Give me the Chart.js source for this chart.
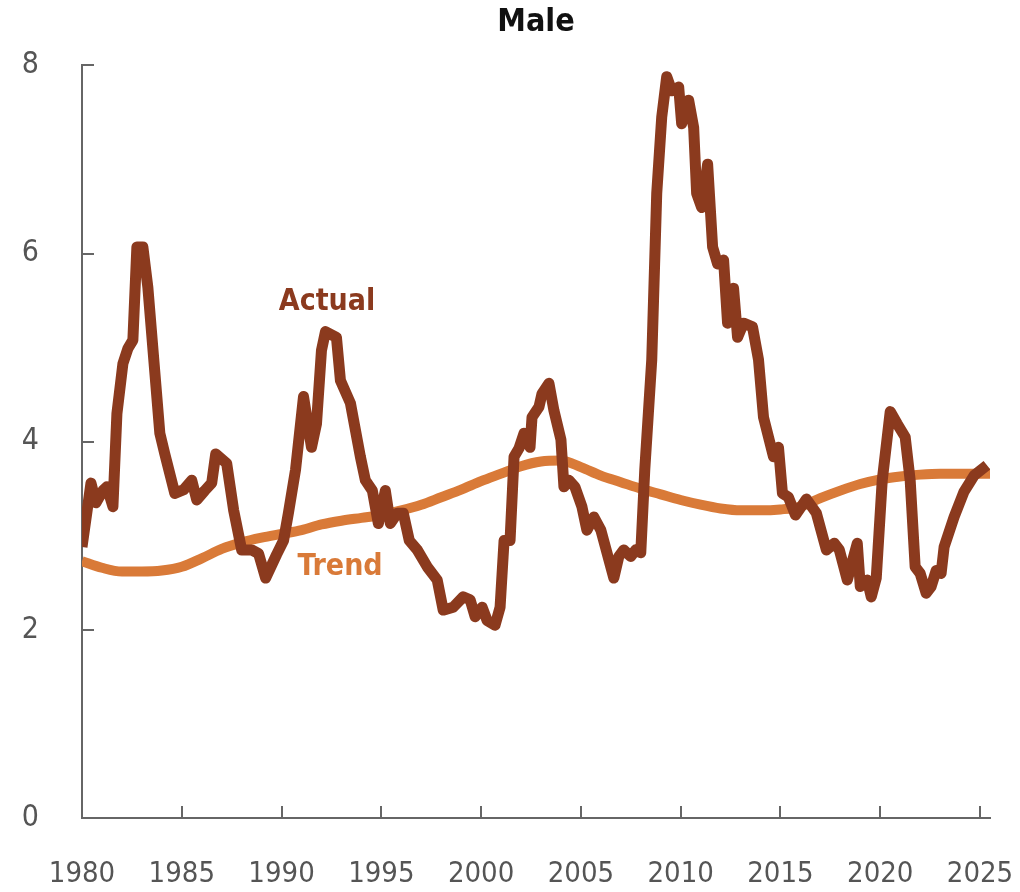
<!DOCTYPE html>
<html>
<head>
<meta charset="utf-8">
<script src="https://cdn.jsdelivr.net/npm/chart.js@4/dist/chart.umd.min.js"></script>
<style>
  html, body { margin: 0; padding: 0; background: #fff; }
  #wrap { width: 1020px; height: 892px; }
</style>
</head>
<body>
<div id="wrap"><canvas id="maleChart"></canvas></div>
<script>
// actual rate
const actualYears = [1980.0, 1980.45, 1980.7, 1981.05, 1981.25, 1981.55, 1981.75, 1982.05, 1982.3, 1982.55,
  1982.75, 1983.05, 1983.3, 1983.9, 1984.15, 1984.65, 1985.1, 1985.5, 1985.75, 1986.15,
  1986.5, 1986.7, 1987.25, 1987.6, 1988.0, 1988.5, 1988.85, 1989.2, 1989.75, 1990.1,
  1990.35, 1990.7, 1991.1, 1991.5, 1991.75, 1992.0, 1992.2, 1992.75, 1992.95, 1993.45,
  1993.95, 1994.2, 1994.55, 1994.85, 1995.2, 1995.45, 1995.8, 1996.1, 1996.4, 1996.8,
  1997.3, 1997.8, 1998.1, 1998.6, 1999.1, 1999.45, 1999.7, 2000.05, 2000.3, 2000.7,
  2000.95, 2001.15, 2001.45, 2001.65, 2001.9, 2002.15, 2002.45, 2002.55, 2002.9, 2003.05,
  2003.4, 2003.65, 2004.0, 2004.15, 2004.4, 2004.7, 2005.05, 2005.3, 2005.65, 2006.0,
  2006.65, 2006.9, 2007.15, 2007.5, 2007.75, 2008.0, 2008.2, 2008.55, 2008.8, 2009.05,
  2009.3, 2009.55, 2009.9, 2010.05, 2010.4, 2010.65, 2010.8, 2011.05, 2011.35, 2011.6,
  2011.85, 2012.15, 2012.35, 2012.65, 2012.85, 2013.15, 2013.6, 2013.9, 2014.15, 2014.65,
  2014.9, 2015.1, 2015.4, 2015.75, 2016.3, 2016.8, 2017.3, 2017.7, 2017.95, 2018.35,
  2018.85, 2019.0, 2019.35, 2019.55, 2019.8, 2020.1, 2020.5, 2020.85, 2021.25, 2021.5,
  2021.75, 2022.0, 2022.3, 2022.55, 2022.8, 2023.05, 2023.2, 2023.7, 2024.2, 2024.7,
  2025.35];
const actualValues = [2.88, 3.56, 3.35, 3.48, 3.52, 3.31, 4.30, 4.83, 4.99, 5.08,
  6.07, 6.07, 5.64, 4.09, 3.87, 3.45, 3.49, 3.59, 3.38, 3.48,
  3.56, 3.87, 3.77, 3.27, 2.85, 2.85, 2.81, 2.55, 2.80, 2.95,
  3.25, 3.70, 4.48, 3.94, 4.19, 4.97, 5.17, 5.11, 4.65, 4.41,
  3.84, 3.59, 3.48, 3.13, 3.48, 3.13, 3.24, 3.24, 2.95, 2.85,
  2.67, 2.53, 2.21, 2.24, 2.35, 2.32, 2.14, 2.24, 2.10, 2.05,
  2.24, 2.95, 2.95, 3.84, 3.93, 4.09, 3.94, 4.26, 4.37, 4.51,
  4.62, 4.33, 4.02, 3.52, 3.59, 3.52, 3.31, 3.06, 3.20, 3.06,
  2.55, 2.78, 2.85, 2.78, 2.85, 2.82, 3.70, 4.87, 6.64, 7.45,
  7.88, 7.73, 7.77, 7.38, 7.63, 7.34, 6.64, 6.49, 6.95, 6.07,
  5.89, 5.93, 5.26, 5.63, 5.11, 5.26, 5.22, 4.87, 4.26, 3.84,
  3.94, 3.45, 3.41, 3.22, 3.39, 3.24, 2.85, 2.92, 2.85, 2.53,
  2.92, 2.46, 2.53, 2.35, 2.55, 3.59, 4.32, 4.19, 4.05, 3.59,
  2.67, 2.60, 2.39, 2.46, 2.63, 2.60, 2.88, 3.20, 3.47, 3.64,
  3.75];

// smooth trend
const trendYears = [1980, 1981, 1982, 1983, 1984, 1985, 1986, 1987, 1988, 1989,
  1990, 1991, 1992, 1993, 1994, 1995, 1996, 1997, 1998, 1999,
  2000, 2001, 2002, 2003, 2004, 2005, 2006, 2007, 2008, 2009,
  2010, 2011, 2012, 2013, 2014, 2015, 2016, 2017, 2018, 2019,
  2020, 2021, 2022, 2023, 2024, 2025, 2025.5];
const trendValues = [2.73, 2.66, 2.62, 2.62, 2.63, 2.67, 2.76, 2.86, 2.93, 2.98,
  3.02, 3.06, 3.12, 3.16, 3.19, 3.22, 3.27, 3.33, 3.41, 3.49,
  3.58, 3.66, 3.74, 3.79, 3.80, 3.73, 3.64, 3.57, 3.50, 3.44,
  3.38, 3.33, 3.29, 3.27, 3.27, 3.28, 3.31, 3.40, 3.48, 3.55,
  3.60, 3.63, 3.65, 3.66, 3.66, 3.66, 3.66];

const xTicks = [1985, 1990, 1995, 2000, 2005, 2010, 2015, 2020, 2025];
const yTicks = [2, 4, 6, 8];

const labels = [
  { text: 'Actual', x: 1992.28, y: 5.48, color: '#8B3A1E' },
  { text: 'Trend', x: 1992.93, y: 2.67, color: '#D97A38' }
];

const narrow = '"Liberation Sans Narrow", "DejaVu Sans Condensed", sans-serif';
const axisColor = '#666';

// tick marks pointing into the plot, plus the two line labels
const innerTicks = {
  id: 'innerTicks',
  afterDatasetsDraw(chart) {
    const { ctx, scales: { x, y } } = chart;
    ctx.save();
    ctx.strokeStyle = axisColor;
    ctx.lineWidth = 2;
    ctx.beginPath();
    yTicks.forEach(v => {
      const py = Math.round(y.getPixelForValue(v));
      ctx.moveTo(x.left, py);
      ctx.lineTo(x.left + 12, py);
    });
    xTicks.forEach(v => {
      const px = Math.round(x.getPixelForValue(v));
      ctx.moveTo(px, y.bottom);
      ctx.lineTo(px, y.bottom - 12);
    });
    ctx.stroke();

    ctx.font = 'bold 30px ' + narrow;
    ctx.textAlign = 'center';
    ctx.textBaseline = 'middle';
    labels.forEach(l => {
      ctx.fillStyle = l.color;
      ctx.fillText(l.text, x.getPixelForValue(l.x), y.getPixelForValue(l.y));
    });
    ctx.restore();
  }
};

new Chart(document.getElementById('maleChart'), {
  type: 'line',
  data: {
    datasets: [{
      label: 'Actual',
      data: actualYears.map((yr, i) => ({ x: yr, y: actualValues[i] })),
      borderColor: '#8B3A1E',
      borderWidth: 11,
      borderJoinStyle: 'round',
      pointRadius: 0,
      tension: 0
    }, {
      label: 'Trend',
      data: trendYears.map((yr, i) => ({ x: yr, y: trendValues[i] })),
      borderColor: '#D97A38',
      borderWidth: 10,
      pointRadius: 0,
      cubicInterpolationMode: 'monotone'
    }]
  },
  options: {
    responsive: true,
    maintainAspectRatio: false,
    animation: false,
    layout: { padding: { left: 0, right: 30, top: 0, bottom: 0 } },
    plugins: {
      legend: { display: false },
      tooltip: { enabled: false },
      title: {
        display: true,
        text: 'Male',
        fullSize: false,
        color: '#111',
        font: { family: narrow, size: 32, weight: 'bold', lineHeight: 1.2 },
        padding: { top: 3, bottom: 24 }
      }
    },
    scales: {
      x: {
        type: 'linear',
        min: 1980,
        max: 2025.5,
        grid: { display: false, drawTicks: false },
        border: { display: true, color: axisColor, width: 2 },
        ticks: {
          stepSize: 5,
          includeBounds: false,
          padding: 39,
          color: '#555',
          font: { family: narrow, size: 29 },
          maxRotation: 0,
          callback: v => String(v)
        },
        afterFit: s => { s.height = 74; s.paddingLeft = 0; s.paddingRight = 0; }
      },
      y: {
        min: 0,
        max: 8,
        grid: { display: false, drawTicks: false },
        border: { display: true, color: axisColor, width: 2 },
        ticks: {
          stepSize: 2,
          padding: 43,
          color: '#555',
          font: { family: narrow, size: 30 }
        },
        afterFit: s => { s.width = 82; s.paddingTop = 0; s.paddingBottom = 0; }
      }
    }
  },
  plugins: [innerTicks]
});
</script>
</body>
</html>
